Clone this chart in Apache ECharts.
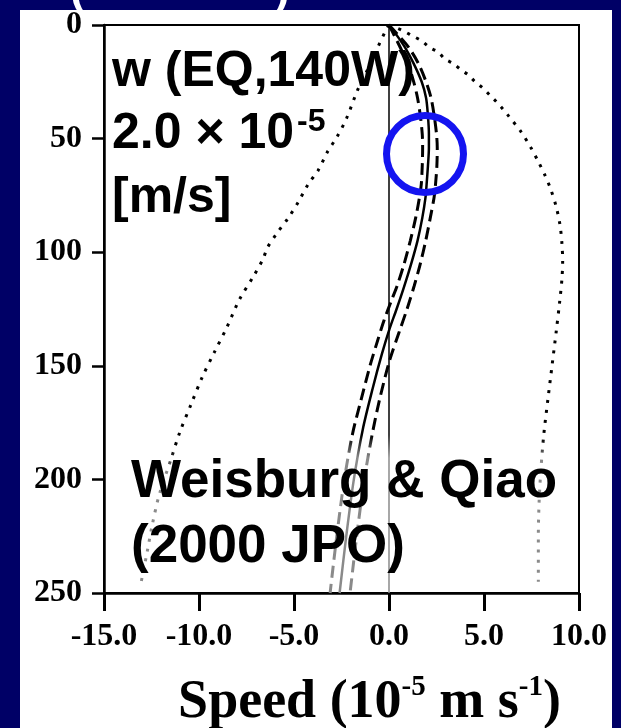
<!DOCTYPE html>
<html>
<head>
<meta charset="utf-8">
<script src="https://cdn.jsdelivr.net/npm/echarts@6/dist/echarts.min.js"></script>
<style>
html,body{margin:0;padding:0;background:#000066;}
#chart{width:621px;height:728px;}
</style>
</head>
<body>
<div id="chart"></div>
<script>
// ---- data (depth in m, speed in 1e-5 m/s) ----
var xTicks = [-15, -10, -5, 0, 5, 10];
var xTickLabels = ['-15.0', '-10.0', '-5.0', '0.0', '5.0', '10.0'];
var yTicks = [0, 50, 100, 150, 200, 250];
var yTickLabels = ['0', '50', '100', '150', '200', '250'];

var meanDepth = [0, 5, 10, 17, 25, 32, 40, 48, 54, 62, 70, 76, 85, 95, 105, 115, 125, 134, 145, 160, 178, 200, 225, 250];
var meanSpeed = [0, 0.45, 0.85, 1.3, 1.72, 1.95, 2.05, 2.1, 2.1, 2.05, 1.98, 1.92, 1.75, 1.5, 1.17, 0.8, 0.4, 0.02, -0.38, -0.86, -1.38, -1.85, -2.25, -2.6];

var lowDepth = [0, 5, 10, 17, 25, 32, 40, 48, 54, 62, 70, 76, 85, 95, 105, 115, 121, 130, 140, 150, 165, 180, 200, 225, 250];
var lowSpeed = [0, 0.3, 0.6, 1.0, 1.3, 1.5, 1.65, 1.75, 1.77, 1.75, 1.7, 1.6, 1.4, 1.12, 0.8, 0.42, 0.14, -0.26, -0.64, -1.0, -1.47, -1.92, -2.35, -2.75, -3.1];

var highDepth = [0, 5, 10, 17, 25, 32, 40, 48, 54, 62, 70, 76, 85, 95, 105, 115, 125, 135, 148, 165, 180, 200, 225, 250];
var highSpeed = [0, 0.55, 1.05, 1.55, 1.95, 2.21, 2.38, 2.5, 2.54, 2.52, 2.45, 2.37, 2.17, 1.93, 1.65, 1.32, 0.95, 0.54, 0.02, -0.5, -0.88, -1.3, -1.7, -2.05];

var leftDotDepth = [0, 2, 10, 19, 29, 41, 49, 56, 64, 70, 78, 85, 92, 98, 103, 110, 121, 133, 144, 155, 167, 179, 191, 207, 220, 232, 245];
var leftDotSpeed = [0, -0.15, -0.6, -1.09, -1.67, -2.23, -2.72, -3.25, -3.73, -4.25, -4.78, -5.31, -5.93, -6.4, -6.63, -7.09, -7.88, -8.53, -9.19, -9.83, -10.42, -11.0, -11.47, -12.1, -12.46, -12.73, -13.04];

var rightDotDepth = [0, 1, 3, 5, 7, 10, 12, 15, 17, 20, 22, 25, 28, 31, 34, 37, 40, 47, 54, 60, 66, 72, 80, 88, 96, 104, 112, 122, 135, 150, 165, 180, 195, 210, 225, 245];
var rightDotSpeed = [0, 0.32, 0.84, 1.28, 1.72, 2.16, 2.6, 2.95, 3.39, 3.83, 4.18, 4.53, 4.97, 5.32, 5.68, 6.0, 6.29, 6.95, 7.47, 7.85, 8.2, 8.5, 8.8, 9.0, 9.1, 9.14, 9.1, 8.98, 8.8, 8.58, 8.36, 8.15, 8.0, 7.9, 7.86, 7.86];

var zeroLineDepth = [0, 250];
var zeroLineSpeed = [0, 0];

function pairs(xs, ys) { return xs.map(function (x, i) { return [x, ys[i]]; }); }

function fade(stop) {
  return new echarts.graphic.LinearGradient(0, 0, 0, 1, [
    { offset: 0, color: '#000000' },
    { offset: stop, color: '#000000' },
    { offset: Math.min(1, stop + 0.04), color: '#8a8a8a' },
    { offset: 1, color: '#8a8a8a' }
  ]);
}

var chart = echarts.init(document.getElementById('chart'));
var serif = 'Liberation Serif';

var option = {
  backgroundColor: '#000066',
  animation: false,
  grid: { left: 104, right: 42, top: 25, bottom: 135, outerBoundsMode: 'none', containLabel: false,
          show: true, borderColor: '#000', borderWidth: 2, backgroundColor: 'transparent' },
  xAxis: {
    type: 'value', min: -15, max: 10, interval: 5,
    axisLine: { show: true, onZero: false, lineStyle: { color: '#000', width: 2.5 } },
    axisTick: { show: true, length: 18, lineStyle: { color: '#000', width: 3 } },
    splitLine: { show: false },
    axisLabel: {
      margin: 28, color: '#000', fontFamily: serif, fontWeight: 'bold', fontSize: 32,
      formatter: function (v) { var i = xTicks.indexOf(v); return i >= 0 ? xTickLabels[i] : ''; }
    },
    name: '{b|Speed (10}{s|-5}{b| m s}{s|-1}{b|)}',
    nameLocation: 'middle', nameGap: 80,
    nameTextStyle: {
      padding: [0, 0, 0, 56],
      rich: {
        b: { fontFamily: serif, fontWeight: 'bold', fontSize: 54, color: '#000', lineHeight: 60 },
        s: { fontFamily: serif, fontWeight: 'bold', fontSize: 29, color: '#000', lineHeight: 32, verticalAlign: 'top' }
      }
    }
  },
  yAxis: {
    type: 'value', min: 0, max: 250, interval: 50, inverse: true,
    axisLine: { show: true, onZero: false, lineStyle: { color: '#000', width: 2.5 } },
    axisTick: { show: true, length: 12, lineStyle: { color: '#000', width: 2.5 } },
    splitLine: { show: false },
    axisLabel: {
      margin: 22, color: '#000', fontFamily: serif, fontWeight: 'bold', fontSize: 32,
      formatter: function (v) { var i = yTicks.indexOf(v); return i >= 0 ? yTickLabels[i] : ''; }
    }
  },
  series: [
    { type: 'line', name: 'zero', data: pairs(zeroLineSpeed, zeroLineDepth), symbol: 'none',
      lineStyle: { color: fade(0.72), width: 1.5 }, z: 1 },
    { type: 'line', name: 'left dotted', data: pairs(leftDotSpeed, leftDotDepth), symbol: 'none', smooth: 0.3,
      lineStyle: { color: fade(0.76), width: 3, type: [3, 7] } },
    { type: 'line', name: 'right dotted', data: pairs(rightDotSpeed, rightDotDepth), symbol: 'none', smooth: 0.3,
      lineStyle: { color: fade(0.74), width: 3, type: [3, 7] } },
    { type: 'line', name: 'lower', data: pairs(lowSpeed, lowDepth), symbol: 'none', smooth: 0.3,
      lineStyle: { color: fade(0.72), width: 3, type: [12, 6] } },
    { type: 'line', name: 'upper', data: pairs(highSpeed, highDepth), symbol: 'none', smooth: 0.3,
      lineStyle: { color: fade(0.72), width: 3, type: [12, 6] } },
    { type: 'line', name: 'mean', data: pairs(meanSpeed, meanDepth), symbol: 'none', smooth: 0.3,
      lineStyle: { color: fade(0.72), width: 2.5 } }
  ],
  graphic: [
    { type: 'rect', z: -10, silent: true, shape: { x: 20, y: 10, width: 592, height: 718 }, style: { fill: '#ffffff' } },
    { type: 'text', z: -5, style: { x: 70, y: -8, text: '(', font: 'bold 44px "Liberation Sans"', fill: '#ffffff', verticalAlign: 'middle' } },
    { type: 'text', z: -5, style: { x: 275, y: -8, text: ')', font: 'bold 44px "Liberation Sans"', fill: '#ffffff', verticalAlign: 'middle' } },
    { type: 'text', z: 100, style: { x: 112, y: 72, text: 'w (EQ,140W)', font: 'bold 50px "Liberation Sans"', fill: '#000', verticalAlign: 'middle' } },
    { type: 'text', z: 100, style: { x: 112, y: 134,
        text: '{m|2.0 \u00d7 10}{s|-5}',
        verticalAlign: 'middle',
        rich: {
          m: { font: 'bold 50px "Liberation Sans"', fill: '#000', lineHeight: 56 },
          s: { font: 'bold 32px "Liberation Sans"', fill: '#000', lineHeight: 36, verticalAlign: 'top', padding: [0, 0, 0, 3] }
        } } },
    { type: 'text', z: 100, style: { x: 112, y: 198, text: '[m/s]', font: 'bold 50px "Liberation Sans"', fill: '#000', verticalAlign: 'middle' } },
    { type: 'text', z: 100, style: { x: 131, y: 482, text: 'Weisburg & Qiao', font: 'bold 53px "Liberation Sans"', fill: '#000', verticalAlign: 'middle' } },
    { type: 'text', z: 100, style: { x: 131, y: 547, text: '(2000 JPO)', font: 'bold 53px "Liberation Sans"', fill: '#000', verticalAlign: 'middle' } },
    { type: 'circle', z: 100, shape: { cx: 425, cy: 154, r: 38.5 }, style: { fill: 'none', stroke: '#1414f0', lineWidth: 7 } }
  ]
};
chart.setOption(option);
</script>
</body>
</html>
